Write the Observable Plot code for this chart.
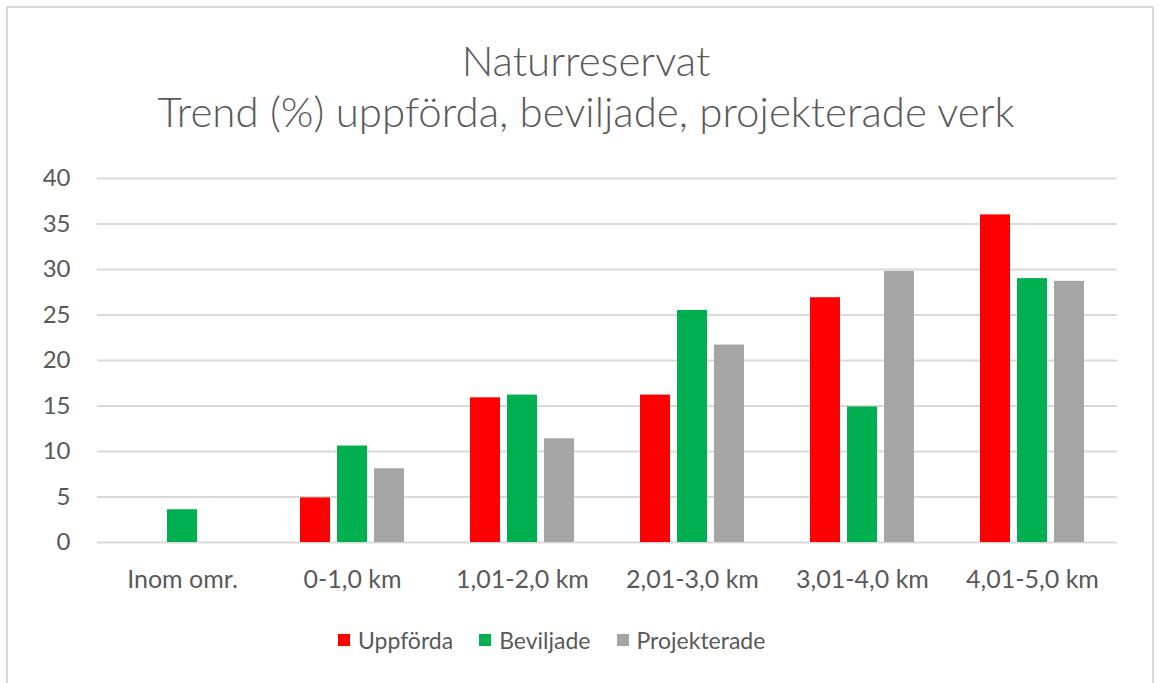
<!DOCTYPE html>
<html>
<head>
<meta charset="utf-8">
<script src="https://cdn.jsdelivr.net/npm/d3@7"></script>
<script src="https://cdn.jsdelivr.net/npm/@observablehq/plot@0.6"></script>
<style>
  html, body { margin: 0; padding: 0; background: #fff; }
  #wrap { position: relative; width: 1158px; height: 683px; overflow: hidden; background: #fff; font-family: Lato, "Open Sans", sans-serif; color: #595959; }
  #frame { position: absolute; left: 6px; top: 6px; width: 1144px; height: 720px; border: 2px solid #d9d9d9; border-bottom: none; }
  #title { position: absolute; left: 0; top: 35px; width: 1172px; text-align: center; font-size: 42px; font-weight: 300; line-height: 51px; }
  #chart { position: absolute; left: 0; top: 150px; }
  #legend { position: absolute; left: 338px; top: 624px; display: flex; align-items: center; font-size: 23px; line-height: 32px; }
  .item { display: flex; align-items: center; margin-right: 26px; }
  .sw { width: 12px; height: 12px; margin-right: 8px; }
</style>
</head>
<body>
<div id="wrap">
  <div id="frame"></div>
  <div id="title">Naturreservat<br>Trend (%) uppförda, beviljade, projekterade verk</div>
  <div id="chart"></div>
  <div id="legend"></div>
</div>
<script>
const categories = ["Inom omr.", "0-1,0 km", "1,01-2,0 km", "2,01-3,0 km", "3,01-4,0 km", "4,01-5,0 km"];
const series = ["Uppförda", "Beviljade", "Projekterade"];
const uppforda = [0, 4.9, 15.9, 16.2, 26.9, 36.0];
const beviljade = [3.6, 10.6, 16.2, 25.5, 14.9, 29.0];
const projekterade = [0, 8.1, 11.4, 21.7, 29.8, 28.7];
const colors = ["#FF0000", "#00B050", "#A5A5A5"];
const yTicks = [0, 5, 10, 15, 20, 25, 30, 35, 40];

const valuesBySeries = [uppforda, beviljade, projekterade];
const table = [];
categories.forEach((c, i) => {
  series.forEach((s, j) => table.push({category: c, series: s, value: valuesBySeries[j][i]}));
});

const chart = Plot.plot({
  width: 1158,
  height: 470,
  marginLeft: 97,
  marginRight: 41,
  marginTop: 28,
  marginBottom: 78,
  style: {fontFamily: "Lato, 'Open Sans', sans-serif", fontSize: "24px", color: "#595959", background: "transparent"},
  fx: {domain: categories, paddingInner: 0, paddingOuter: 0, label: null},
  x: {domain: series, paddingInner: 0.2, paddingOuter: 0.86, axis: null},
  y: {domain: [0, 40], label: null},
  color: {domain: series, range: colors},
  marks: [
    Plot.ruleY(yTicks, {stroke: "#d9d9d9", strokeWidth: 2}),
    Plot.axisY({ticks: yTicks, tickSize: 0, tickPadding: 27, label: null, fontSize: 24}),
    Plot.axisFx({anchor: "bottom", tickSize: 0, tickPadding: 28, label: null, fontSize: 25}),
    Plot.barY(table, {fx: "category", x: "series", y: "value", fill: "series"})
  ]
});
document.getElementById("chart").appendChild(chart);

const legend = document.getElementById("legend");
series.forEach((s, j) => {
  const item = document.createElement("div");
  item.className = "item";
  const sw = document.createElement("div");
  sw.className = "sw";
  sw.style.background = colors[j];
  const t = document.createElement("span");
  t.textContent = s;
  item.appendChild(sw);
  item.appendChild(t);
  legend.appendChild(item);
});
</script>
</body>
</html>
